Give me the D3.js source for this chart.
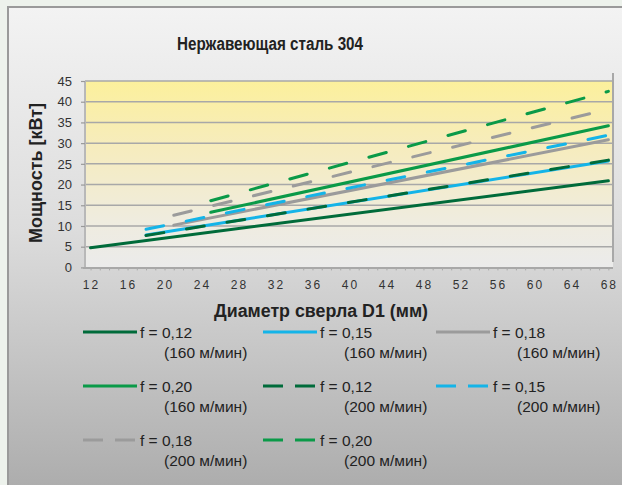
<!DOCTYPE html>
<html>
<head>
<meta charset="utf-8">
<script src="https://cdn.jsdelivr.net/npm/d3@7/dist/d3.min.js"></script>
<style>
  html, body { margin: 0; padding: 0; background: #edf2ec; }
  svg { display: block; font-family: "Liberation Sans", Arial, sans-serif; }
</style>
</head>
<body>
<svg id="chart" width="622" height="485"></svg>
<script>
// Drill power vs. drill diameter for stainless steel 304
const title = "Нержавеющая сталь 304";
const xTitle = "Диаметр сверла D1 (мм)";
const yTitle = "Мощность [кВт]";

const xTickValues = [12, 16, 20, 24, 28, 32, 36, 40, 44, 48, 52, 56, 60, 64, 68];
const yTickValues = [0, 5, 10, 15, 20, 25, 30, 35, 40, 45];

// One entry per series: feed, cutting speed, start/end diameter and power
const feedLabels  = ["f = 0,12", "f = 0,15", "f = 0,18", "f = 0,20", "f = 0,12", "f = 0,15", "f = 0,18", "f = 0,20"];
const speedLabels = ["(160 м/мин)", "(160 м/мин)", "(160 м/мин)", "(160 м/мин)", "(200 м/мин)", "(200 м/мин)", "(200 м/мин)", "(200 м/мин)"];
const dStart = [12, 18, 21, 25, 18, 18, 21, 25];
const dEnd   = [68, 68, 68, 68, 68, 68, 68, 68];
const pStart = [4.75, 7.8, 10.2, 13.3, 7.7, 9.2, 12.6, 16.1];
const pEnd   = [20.9, 25.7, 30.8, 34.2, 25.9, 31.9, 38.2, 42.5];
const colors = ["#006b3a", "#14b4e8", "#9b9b9b", "#0a9a48", "#006b3a", "#14b4e8", "#9b9b9b", "#0a9a48"];
const dashed = [false, false, false, false, true, true, true, true];

const svg = d3.select("#chart");
const defs = svg.append("defs");

const panelGrad = defs.append("linearGradient").attr("id", "panelGrad")
  .attr("x1", 0).attr("y1", 0).attr("x2", 0).attr("y2", 1);
panelGrad.append("stop").attr("offset", "0%").attr("stop-color", "#f3f3f3");
panelGrad.append("stop").attr("offset", "45%").attr("stop-color", "#dcdcdc");
panelGrad.append("stop").attr("offset", "100%").attr("stop-color", "#a9a9a9");

const plotGrad = defs.append("linearGradient").attr("id", "plotGrad")
  .attr("x1", 0).attr("y1", 0).attr("x2", 0).attr("y2", 1);
plotGrad.append("stop").attr("offset", "0%").attr("stop-color", "#fcf09c");
plotGrad.append("stop").attr("offset", "35%").attr("stop-color", "#f6ecbd");
plotGrad.append("stop").attr("offset", "75%").attr("stop-color", "#efecdf");
plotGrad.append("stop").attr("offset", "100%").attr("stop-color", "#ebebeb");

// Outer panel
svg.append("rect").attr("x", 8).attr("y", 7).attr("width", 630).attr("height", 500)
  .attr("fill", "url(#panelGrad)").attr("stroke", "#9a9a9a").attr("stroke-width", 2);

const x = d3.scaleLinear().domain([11.4, 68.5]).range([85, 613]);
const y = d3.scaleLinear().domain([0, 45]).range([267.4, 81]);

// Plot background
svg.append("rect")
  .attr("x", x(11.4)).attr("y", y(45))
  .attr("width", x(68.5) - x(11.4)).attr("height", y(0) - y(45))
  .attr("fill", "url(#plotGrad)");

// Horizontal grid
svg.append("g").selectAll("line").data(yTickValues.filter(v => v > 0)).join("line")
  .attr("x1", x(11.4)).attr("x2", x(68.5))
  .attr("y1", d => y(d)).attr("y2", d => y(d))
  .attr("stroke", "#a8a8a8").attr("stroke-width", 1.5);

// Plot borders
svg.append("line").attr("x1", x(11.4)).attr("x2", x(11.4)).attr("y1", y(45)).attr("y2", y(0))
  .attr("stroke", "#b8b8b8").attr("stroke-width", 2);
svg.append("line").attr("x1", x(68.5)).attr("x2", x(68.5)).attr("y1", 73).attr("y2", 262)
  .attr("stroke", "#a8a8a8").attr("stroke-width", 2);

// Y axis
const yAxis = d3.axisLeft(y).tickValues(yTickValues).tickSize(4).tickPadding(9);
const gy = svg.append("g").attr("transform", `translate(${x(11.4)},0)`).call(yAxis);
gy.select(".domain").remove();
gy.selectAll(".tick line").attr("stroke", "#999").attr("stroke-width", 1.2);
gy.selectAll(".tick text").attr("fill", "#333").attr("font-size", 13)
  .attr("font-family", "'Liberation Sans', Arial, sans-serif");

// X axis with a tick at every millimetre
const xAxis = d3.axisBottom(x).tickValues(d3.range(12, 69)).tickSize(3).tickFormat("");
const gx = svg.append("g").attr("transform", `translate(0,${y(0)})`).call(xAxis);
gx.select(".domain").attr("d", `M83,0.5H${x(68.5)}`).attr("stroke", "#a8a8a8").attr("stroke-width", 2);
gx.selectAll(".tick line").attr("stroke", "#aaa").attr("stroke-width", 1);
svg.append("g").selectAll("text").data(xTickValues).join("text")
  .attr("x", d => x(d) + 1).attr("y", 289)
  .attr("text-anchor", "middle")
  .attr("font-size", 12).attr("letter-spacing", 2).attr("fill", "#333")
  .text(d => d);

// Series
const line = d3.line().x(d => x(d[0])).y(d => y(d[1]));
const seriesIdx = d3.range(feedLabels.length);
svg.append("g").selectAll("path").data(seriesIdx).join("path")
  .attr("d", i => line([[dStart[i], pStart[i]], [dEnd[i], pEnd[i]]]))
  .attr("fill", "none")
  .attr("stroke", i => colors[i])
  .attr("stroke-width", 3)
  .attr("stroke-linecap", "round")
  .attr("stroke-dasharray", i => dashed[i] ? "18,23" : null);

// Titles (condensed bold)
svg.append("text").attr("x", 177).attr("y", 50)
  .attr("textLength", 186).attr("lengthAdjust", "spacingAndGlyphs")
  .attr("font-size", 18).attr("font-weight", "bold").attr("fill", "#222").text(title);
svg.append("text").attr("x", 214).attr("y", 317)
  .attr("textLength", 214).attr("lengthAdjust", "spacingAndGlyphs")
  .attr("font-size", 18).attr("font-weight", "bold").attr("fill", "#222").text(xTitle);
svg.append("text").attr("transform", "translate(42,243) rotate(-90)")
  .attr("textLength", 140).attr("lengthAdjust", "spacingAndGlyphs")
  .attr("font-size", 18).attr("font-weight", "bold").attr("fill", "#222").text(yTitle);

// Legend: three columns, row-major
const colX = [83, 263, 436];
const rowY = [332, 386, 440];
const leg = svg.append("g").selectAll("g").data(seriesIdx).join("g")
  .attr("transform", i => `translate(${colX[i % 3]},${rowY[Math.floor(i / 3)]})`);
leg.append("line").attr("x1", 0).attr("x2", 54).attr("y1", 0).attr("y2", 0)
  .attr("stroke", i => colors[i]).attr("stroke-width", 3)
  .attr("stroke-dasharray", i => dashed[i] ? "20,12" : null);
leg.append("text").attr("x", 57).attr("y", 5.5)
  .attr("font-size", 15.5).attr("fill", "#222").text(i => feedLabels[i]);
leg.append("text").attr("x", 81).attr("y", 25.5)
  .attr("font-size", 15.5).attr("fill", "#222").text(i => speedLabels[i]);
</script>
</body>
</html>
